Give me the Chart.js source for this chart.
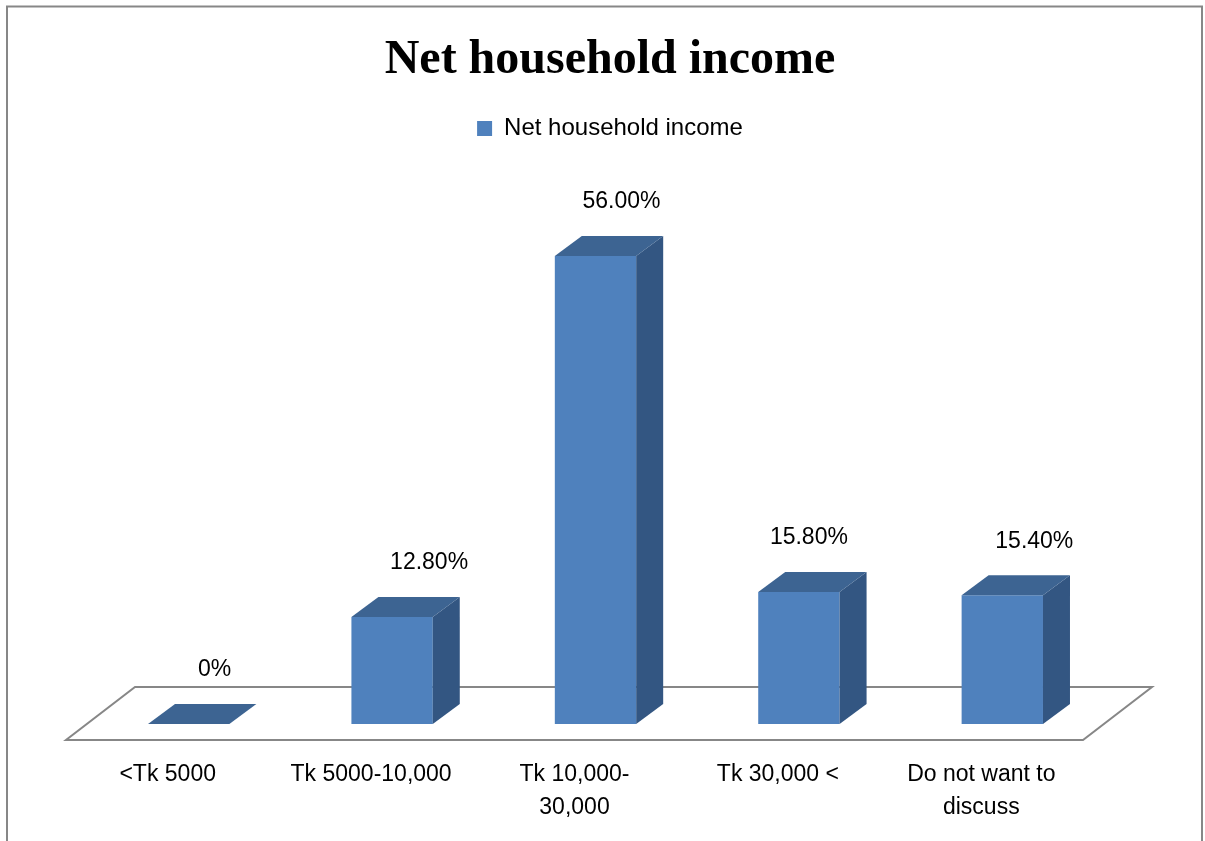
<!DOCTYPE html>
<html>
<head>
<meta charset="utf-8">
<title>Net household income</title>
<script src="https://cdn.jsdelivr.net/npm/chart.js@4.4.1/dist/chart.umd.min.js"></script>
<style>
  html, body { margin: 0; padding: 0; background: #fff; }
</style>
</head>
<body>
<canvas id="chartCanvas" width="1205" height="841"></canvas>
<script>
// income groups and share of households (%)
const categories = ['<Tk 5000', 'Tk 5000-10,000', ['Tk 10,000-', '30,000'], 'Tk 30,000 <', ['Do not want to', 'discuss']]
const incomeShare = [0, 12.8, 56.0, 15.8, 15.4]
const seriesName = 'Net household income'

// small sideways nudges for the value labels
const labelNudge = [0, 11, 0, -16, 6]

const frontColour = '#4F81BD'
const topColour = '#3D6492'
const sideColour = '#335682'
const depthX = 27
const depthY = 20

Chart.defaults.font.family = "'Liberation Sans', Arial, sans-serif"
Chart.defaults.color = '#000'

const percentText = v => v === 0 ? '0%' : v.toFixed(2) + '%'

// grey frame round the whole chart
const framePlugin = {
  id: 'frame',
  beforeDraw(chart) {
    const ctx = chart.ctx
    ctx.save()
    ctx.fillStyle = '#fff'
    ctx.fillRect(0, 0, chart.width, chart.height)
    ctx.strokeStyle = '#878787'
    ctx.lineWidth = 2
    ctx.strokeRect(7, 6.5, chart.width - 10, chart.height + 20)
    ctx.restore()
  }
}

// floor plate the bars stand on
const floorPlugin = {
  id: 'floor',
  beforeDatasetsDraw(chart) {
    const {ctx, chartArea} = chart
    const base = chart.scales.y.getPixelForValue(0)
    const front = base + 16
    const back = front - 53
    const left = chartArea.left - 21
    const right = chartArea.right - 21
    ctx.save()
    ctx.beginPath()
    ctx.moveTo(left, front)
    ctx.lineTo(right, front)
    ctx.lineTo(right + 69, back)
    ctx.lineTo(left + 69, back)
    ctx.closePath()
    ctx.fillStyle = '#fff'
    ctx.fill()
    ctx.lineWidth = 2
    ctx.strokeStyle = '#878787'
    ctx.stroke()
    ctx.restore()
  }
}

// top + side faces and the value labels
const depthPlugin = {
  id: 'depth',
  afterDatasetsDraw(chart) {
    const ctx = chart.ctx
    const meta = chart.getDatasetMeta(0)
    ctx.save()
    meta.data.forEach((bar, i) => {
      const {x, y, base, width} = bar.getProps(['x', 'y', 'base', 'width'], true)
      const l = x - width / 2
      const r = x + width / 2

      ctx.fillStyle = sideColour
      ctx.beginPath()
      ctx.moveTo(r, y)
      ctx.lineTo(r + depthX, y - depthY)
      ctx.lineTo(r + depthX, base - depthY)
      ctx.lineTo(r, base)
      ctx.closePath()
      ctx.fill()

      ctx.fillStyle = topColour
      ctx.beginPath()
      ctx.moveTo(l, y)
      ctx.lineTo(r, y)
      ctx.lineTo(r + depthX, y - depthY)
      ctx.lineTo(l + depthX, y - depthY)
      ctx.closePath()
      ctx.fill()

      ctx.fillStyle = '#000'
      ctx.font = "23px 'Liberation Sans', Arial, sans-serif"
      ctx.textAlign = 'center'
      ctx.textBaseline = 'middle'
      ctx.fillText(percentText(incomeShare[i]), x + depthX - 1 + labelNudge[i], y - depthY - 34)
    })
    ctx.restore()
  }
}

const chart = new Chart(document.getElementById('chartCanvas'), {
  type: 'bar',
  data: {
    labels: categories,
    datasets: [{
      label: seriesName,
      data: incomeShare,
      backgroundColor: frontColour,
      borderWidth: 0,
      categoryPercentage: 1,
      barPercentage: 0.4
    }]
  },
  options: {
    responsive: false,
    animation: false,
    events: [],
    layout: {
      padding: { top: 0, left: 15, right: 0, bottom: 0 }
    },
    plugins: {
      title: {
        display: true,
        text: 'Net household income',
        color: '#000',
        font: { family: "'Liberation Serif', 'Times New Roman', serif", size: 48, weight: 'bold', lineHeight: 1.2 },
        padding: { top: 32, bottom: 17 }
      },
      legend: {
        display: true,
        position: 'top',
        labels: {
          boxWidth: 15,
          boxHeight: 15,
          padding: 10,
          color: '#000',
          font: { size: 24 }
        }
      },
      tooltip: { enabled: false }
    },
    scales: {
      x: {
        grid: { display: false, drawTicks: false },
        border: { display: false },
        ticks: {
          font: { size: 23, lineHeight: 1.43 },
          color: '#000',
          padding: 34,
          labelOffset: -21,
          maxRotation: 0,
          autoSkip: false
        },
        afterFit(scale) { scale.height = 117 }
      },
      y: {
        min: 0,
        max: 68.6,
        grid: { display: false, drawTicks: false },
        border: { display: false },
        ticks: { display: false },
        afterFit(scale) { scale.width = 72 }
      },
      yRight: {
        position: 'right',
        min: 0,
        max: 1,
        grid: { display: false, drawTicks: false },
        border: { display: false },
        ticks: { display: false },
        afterFit(scale) { scale.width = 101 }
      }
    }
  },
  plugins: [framePlugin, floorPlugin, depthPlugin]
})
</script>
</body>
</html>
